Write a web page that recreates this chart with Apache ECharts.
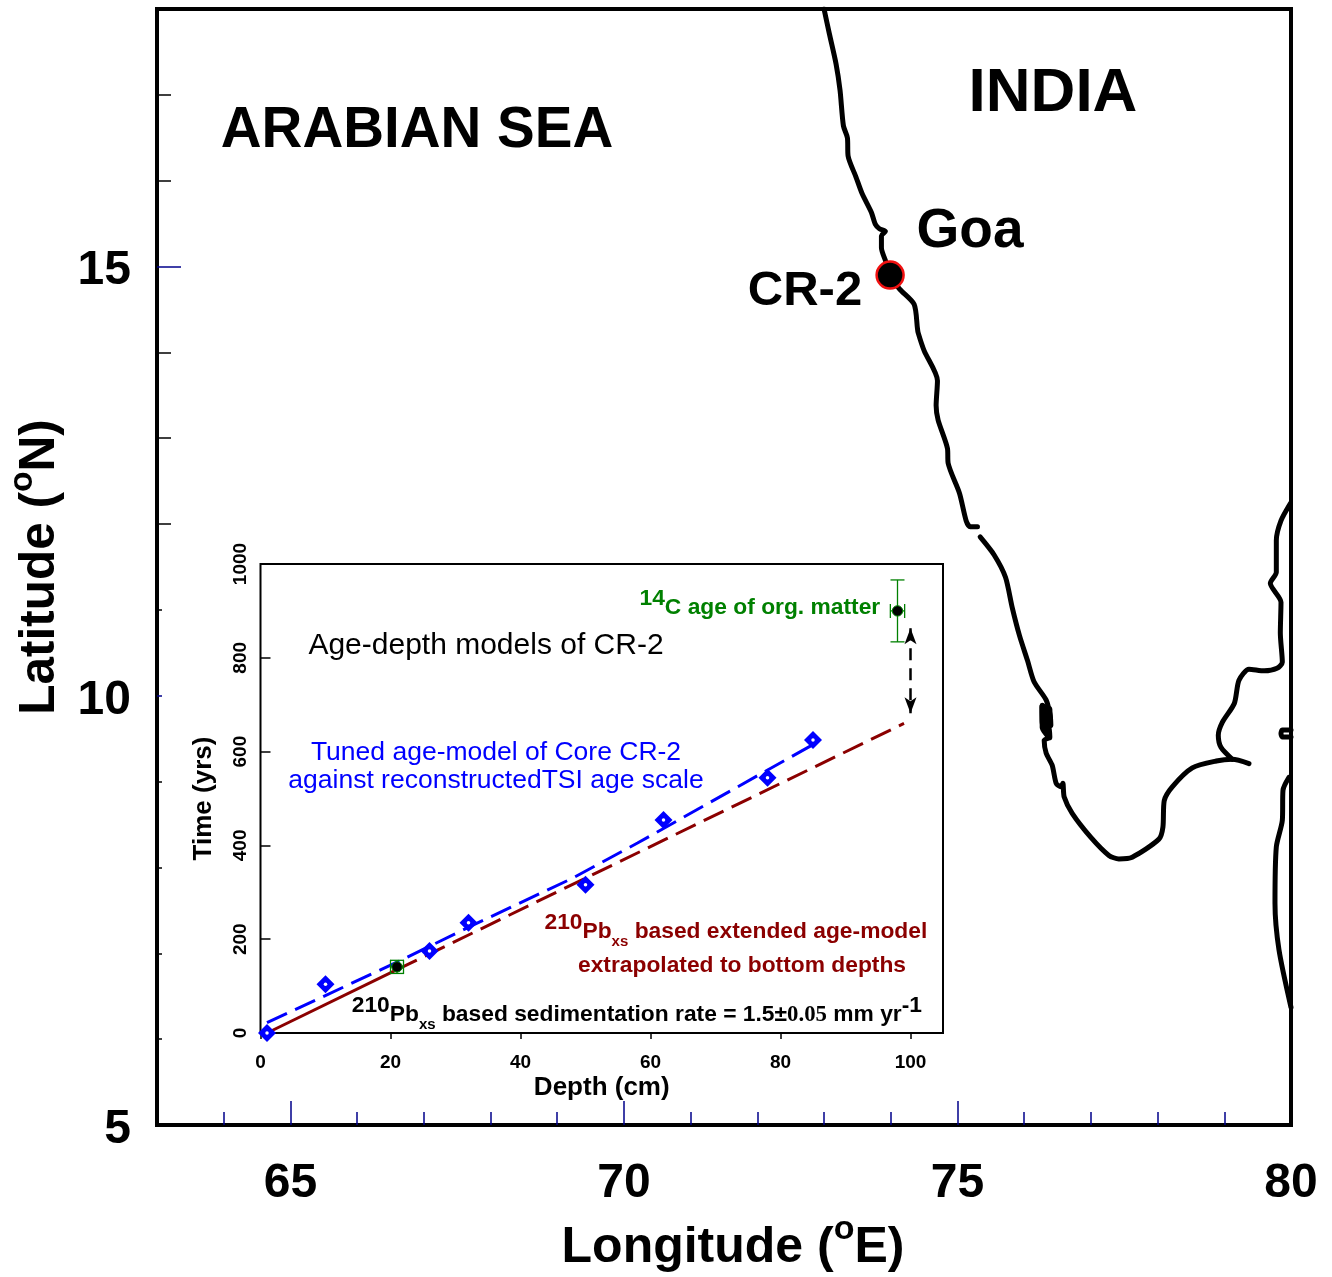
<!DOCTYPE html>
<html><head><meta charset="utf-8">
<style>html,body{margin:0;padding:0;background:#fff}#c{width:1332px;height:1277px}</style>
<script src="https://cdn.jsdelivr.net/npm/echarts@6/dist/echarts.min.js"></script>
</head><body><div id="c"></div>
<script>
// Coastline of the map, in degrees
const westCoastLon=[73.00,73.08,73.18,73.24,73.29,73.35,73.36,73.48,73.57,73.71,73.77,73.83,73.92,73.86,73.86,73.93,73.99,74.13,74.35,74.40,74.41,74.50,74.70,74.68,74.71,74.85,74.86,75.03,75.13,75.19,75.30];
const westCoastLat=[18.00,17.71,17.36,17.05,16.64,16.50,16.29,16.04,15.85,15.63,15.49,15.44,15.41,15.36,15.22,15.05,14.90,14.74,14.56,14.28,14.23,14.02,13.67,13.38,13.21,12.88,12.71,12.36,12.04,11.97,11.97];
const southCoastLon=[75.34,75.55,75.72,75.82,75.93,76.05,76.15,76.33,76.39,76.40,76.30,76.27,76.27,76.36,76.30,76.33,76.42,76.48,76.55,76.58,76.60,76.72,77.00,77.27,77.42,77.62,78.02,78.08,78.10,78.22,78.52,78.88,79.12,79.37];
const southCoastLat=[11.85,11.64,11.38,11.03,10.70,10.41,10.16,9.95,9.77,9.66,9.66,9.89,9.63,9.51,9.48,9.33,9.19,8.98,8.94,8.98,8.82,8.63,8.35,8.14,8.10,8.12,8.33,8.47,8.78,8.94,9.16,9.24,9.26,9.21];
const eastCoastLon=[79.12,78.95,78.91,78.97,79.15,79.22,79.37,79.60,79.79,79.87,79.84,79.85,79.69,79.78,79.78,79.85,79.99];
const eastCoastLat=[9.26,9.40,9.54,9.69,9.91,10.18,10.31,10.29,10.32,10.39,10.73,11.09,11.31,11.44,11.81,12.04,12.24];
const islandLon=[80.00,79.87,79.85,79.87,80.00];
const islandLat=[9.60,9.60,9.56,9.52,9.52];
const lankaLon=[79.97,79.88,79.87,79.78,79.76,79.82,80.00];
const lankaLat=[9.05,8.90,8.55,8.24,7.58,7.04,6.37];
const lagoonLon=[76.28,76.29,76.35,76.37];
const lagoonLat=[9.87,9.66,9.66,9.52];
const lagoonEastLon=[76.37,76.38];
const lagoonEastLat=[9.84,9.66];
const coreSite=[73.99,14.90];

// Axis ticks of the map
const lonLabelled=[65,70,75,80];
const lonMinor=[64,66,67,68,69,71,72,73,74,76,77,78,79];
const latLabelled=[5,10,15];
const latLong=[15];
const latMedium=[12,13,14,16,17];
const latShort=[6,7,8,9,11];
const latShortBlue=[10];

// Inset: age-depth models
const depthTicks=[0,20,40,60,80,100];
const timeTicks=[0,200,400,600,800,1000];
const tunedDepth=[1,10,26,32,50,62,78,85];
const tunedTime=[0,104,175,235,316,454,544,625];
const tunedLineDepth=[1,21,33,48,58,85];
const tunedLineTime=[22,151,232,330,405,615];
const pbSolidDepth=[1,21];
const pbSolidTime=[0,135];
const pbDashDepth=[21,99];
const pbDashTime=[135,660];
const datedDepth=[21,98];
const datedTime=[141,900];
const datedDepthErr=[1,1.1];
const datedTimeErr=[14,66];
const offsetDepth=[100,100];
const offsetTime=[863,682];

const FONT='"Liberation Sans",Arial,sans-serif';
const zip=(a,b)=>a.map((v,i)=>[v,b[i]]);
const hidden={axisLine:{show:false},splitLine:{show:false},axisLabel:{show:false}};
const BLUE='#00008b';

function tickX(vals,len){return Object.assign({},hidden,{type:'value',gridIndex:0,min:63,max:80,position:'bottom',
  axisTick:{show:true,inside:true,length:len,customValues:vals,lineStyle:{color:BLUE,width:1.5}}});}
function tickY(vals,len,color){return Object.assign({},hidden,{type:'value',gridIndex:0,min:5,max:18,position:'left',
  axisTick:{show:true,inside:true,length:len,customValues:vals,lineStyle:{color:color,width:1.5}}});}

const sRich=fs=>({
  b:{fontFamily:FONT,fontWeight:'bold',fontSize:fs,color:'#000',verticalAlign:'bottom',lineHeight:fs*1.2},
  s:{fontFamily:FONT,fontWeight:'bold',fontSize:fs*0.68,color:'#000',verticalAlign:'top',lineHeight:fs*0.8}
});
function txt(x,y,text,fs,color,opts){
  opts=opts||{};
  return {type:'text',x:x,y:y,z:50,style:Object.assign({text:text,fill:color,textAlign:opts.align||'center',textVerticalAlign:'middle',
    fontFamily:FONT,fontSize:fs,fontWeight:opts.regular?'normal':'bold'},opts.rich?{rich:opts.rich}:{})};
}
const insetRich=(color)=>({
  sup:{fontFamily:FONT,fontWeight:'bold',fontSize:22.8,color:color,verticalAlign:'top',lineHeight:22},
  b:{fontFamily:FONT,fontWeight:'bold',fontSize:22.8,color:color,verticalAlign:'middle',lineHeight:26},
  sub:{fontFamily:FONT,fontWeight:'bold',fontSize:15,color:color,verticalAlign:'bottom',lineHeight:15,padding:[0,0,4,0]},
  t:{fontFamily:'"Liberation Serif","Times New Roman",serif',fontWeight:'bold',fontSize:22.8,color:color,verticalAlign:'middle',lineHeight:26},
  h:{fontSize:1,lineHeight:42,verticalAlign:'middle',color:color}
});

const coastLine=(lons,lats,width)=>({
  type:'line',xAxisIndex:0,yAxisIndex:0,data:zip(lons,lats),showSymbol:false,smooth:0.25,silent:true,clip:true,
  lineStyle:{color:'#000',width:width,cap:'round',join:'round'},z:5});

const option={
  animation:false,
  backgroundColor:'#fff',
  textStyle:{fontFamily:FONT},
  grid:[
    {left:157,top:9,width:1134,height:1116,show:true,borderColor:'#000',borderWidth:4,backgroundColor:'#fff',containLabel:false,outerBoundsMode:'none'},
    {left:260.5,top:564,width:682.5,height:469,show:true,borderColor:'#000',borderWidth:2,backgroundColor:'#fff',containLabel:false,outerBoundsMode:'none'}
  ],
  xAxis:[
    {type:'value',gridIndex:0,min:63,max:80,position:'bottom',
     name:'{b|Longitude (}{s|o}{b|E)}',nameLocation:'middle',nameGap:88,
     nameTextStyle:{rich:sRich(50),padding:[0,0,0,18]},
     axisLine:{show:false},splitLine:{show:false},
     axisTick:{show:true,inside:true,length:24,customValues:lonLabelled.slice(0,3),lineStyle:{color:BLUE,width:1.5}},
     axisLabel:{show:true,customValues:lonLabelled,margin:35,fontFamily:FONT,fontWeight:'bold',fontSize:48,color:'#000',formatter:v=>String(v)}},
    tickX(lonMinor,13),
    {type:'value',gridIndex:1,min:0,max:105,position:'bottom',
     name:'Depth (cm)',nameLocation:'middle',nameGap:42,
     nameTextStyle:{fontFamily:FONT,fontWeight:'bold',fontSize:26,color:'#000'},
     axisLine:{show:false},splitLine:{show:false},
     axisTick:{show:true,inside:false,length:6,customValues:depthTicks,lineStyle:{color:'#000',width:1.5}},
     axisLabel:{show:true,customValues:depthTicks,margin:20,fontFamily:FONT,fontWeight:'bold',fontSize:19,color:'#000',formatter:v=>String(v)}}
  ],
  yAxis:[
    {type:'value',gridIndex:0,min:5,max:18,position:'left',
     name:'{b|Latitude (}{s|o}{b|N)}',nameLocation:'middle',nameGap:92,nameRotate:90,
     nameTextStyle:{rich:sRich(49.5)},
     axisLine:{show:false},splitLine:{show:false},
     axisTick:{show:true,inside:true,length:24,customValues:latLong,lineStyle:{color:BLUE,width:1.5}},
     axisLabel:{show:true,customValues:latLabelled,margin:26,fontFamily:FONT,fontWeight:'bold',fontSize:48,color:'#000',
       formatter:v=>'{n|'+v+'}',
       rich:{n:{fontFamily:FONT,fontWeight:'bold',fontSize:48,color:'#000',padding:[9,0,0,0]}}}},
    tickY(latMedium,14,'#000'),
    tickY(latShort,5,'#000'),
    tickY(latShortBlue,5,BLUE),
    {type:'value',gridIndex:1,min:0,max:1000,position:'left',
     name:'Time (yrs)',nameLocation:'middle',nameGap:44,nameRotate:90,
     nameTextStyle:{fontFamily:FONT,fontWeight:'bold',fontSize:26,color:'#000'},
     axisLine:{show:false},splitLine:{show:false},
     axisTick:{show:true,inside:true,length:10,customValues:timeTicks,lineStyle:{color:'#000',width:1.5}},
     axisLabel:{show:true,customValues:timeTicks,margin:10,rotate:90,fontFamily:FONT,fontWeight:'bold',fontSize:19,color:'#000',formatter:v=>String(v)}}
  ],
  series:[
    coastLine(westCoastLon,westCoastLat,5),
    coastLine(southCoastLon,southCoastLat,5),
    coastLine(eastCoastLon,eastCoastLat,5),
    coastLine(islandLon,islandLat,5),
    coastLine(lankaLon,lankaLat,5),
    coastLine(lagoonLon,lagoonLat,7),
    coastLine(lagoonEastLon,lagoonEastLat,7),
    {type:'scatter',xAxisIndex:0,yAxisIndex:0,data:[coreSite],symbol:'circle',symbolSize:27,
     itemStyle:{color:'#000',borderColor:'#f01010',borderWidth:2.5,opacity:1},z:6},
    {type:'line',xAxisIndex:2,yAxisIndex:4,data:zip(pbSolidDepth,pbSolidTime),showSymbol:false,
     lineStyle:{color:'#8b0000',width:3},z:10},
    {type:'line',xAxisIndex:2,yAxisIndex:4,data:zip(pbDashDepth,pbDashTime),showSymbol:false,
     lineStyle:{color:'#8b0000',width:3,type:[22,9]},z:10},
    {type:'line',xAxisIndex:2,yAxisIndex:4,data:zip(tunedLineDepth,tunedLineTime),showSymbol:false,
     lineStyle:{color:'#0000ff',width:3,type:[22,9]},z:11},
    {type:'scatter',xAxisIndex:2,yAxisIndex:4,data:zip(tunedDepth,tunedTime),symbol:'diamond',symbolSize:18,
     itemStyle:{color:'#0000ff',opacity:1},z:12},
    {type:'scatter',xAxisIndex:2,yAxisIndex:4,data:zip(tunedDepth,tunedTime),symbol:'circle',symbolSize:3.5,
     itemStyle:{color:'#fff',opacity:1},z:12.5},
    {type:'custom',xAxisIndex:2,yAxisIndex:4,z:13,silent:true,
     data:datedDepth.map((d,i)=>[d,datedTime[i],datedDepthErr[i],datedTimeErr[i]]),
     encode:{x:0,y:1},
     renderItem:(params,api)=>{
       const d=api.value(0),t=api.value(1),dx=api.value(2),dt=api.value(3);
       const top=api.coord([d,t+dt]),bot=api.coord([d,t-dt]),l=api.coord([d-dx,t]),r=api.coord([d+dx,t]);
       const cap=7,st={stroke:'#008000',lineWidth:1.3,fill:null};
       const seg=(a,b,c,e)=>({type:'line',shape:{x1:a,y1:b,x2:c,y2:e},style:st});
       return {type:'group',children:[
         seg(top[0],top[1],bot[0],bot[1]),
         seg(top[0]-cap,top[1],top[0]+cap,top[1]),
         seg(bot[0]-cap,bot[1],bot[0]+cap,bot[1]),
         seg(l[0],l[1],r[0],r[1]),
         seg(l[0],l[1]-cap,l[0],l[1]+cap),
         seg(r[0],r[1]-cap,r[0],r[1]+cap),
         {type:'circle',shape:{cx:top[0],cy:l[1],r:5.2},style:{fill:'#000',stroke:'#008000',lineWidth:1}}
       ]};
     }},
    {type:'line',xAxisIndex:2,yAxisIndex:4,data:[],showSymbol:false,z:14,silent:true,
     markLine:{silent:true,animation:false,symbol:['arrow','arrow'],symbolSize:[9,16],label:{show:false},
       lineStyle:{color:'#000',width:2.5,type:[12,8]},
       data:[[{coord:[offsetDepth[0],offsetTime[0]]},{coord:[offsetDepth[1],offsetTime[1]]}]]}}
  ],
  graphic:{elements:[
    txt(417,131,'ARABIAN SEA',56.5,'#000'),
    txt(1053,94,'INDIA',62,'#000'),
    txt(970,232,'Goa',55,'#000'),
    txt(805,291,'CR-2',49,'#000'),
    txt(486,646,'Age-depth models of CR-2',30,'#000',{regular:true}),
    txt(496,753,'Tuned age-model of Core CR-2',26.5,'#0000ff',{regular:true}),
    txt(496,781,'against reconstructedTSI age scale',26.5,'#0000ff',{regular:true}),
    txt(760,608,'{sup|14}{b|C age of org. matter}{h| }',22.8,'#008000',{rich:insetRich('#008000')}),
    txt(736,932,'{sup|210}{b|Pb}{sub|xs}{b| based extended age-model}{h| }',22.8,'#8b0000',{rich:insetRich('#8b0000')}),
    txt(742,966,'extrapolated to bottom depths',22.8,'#8b0000'),
    txt(637,1015,'{sup|210}{b|Pb}{sub|xs}{b| based sedimentation rate = 1.5\u00b1}{t|0.05}{b| mm yr}{sup|-1}{h| }',22.8,'#000',{rich:insetRich('#000')})
  ]}
};
const chart=echarts.init(document.getElementById('c'),null,{renderer:'canvas',width:1332,height:1277});
chart.setOption(option);
</script></body></html>
